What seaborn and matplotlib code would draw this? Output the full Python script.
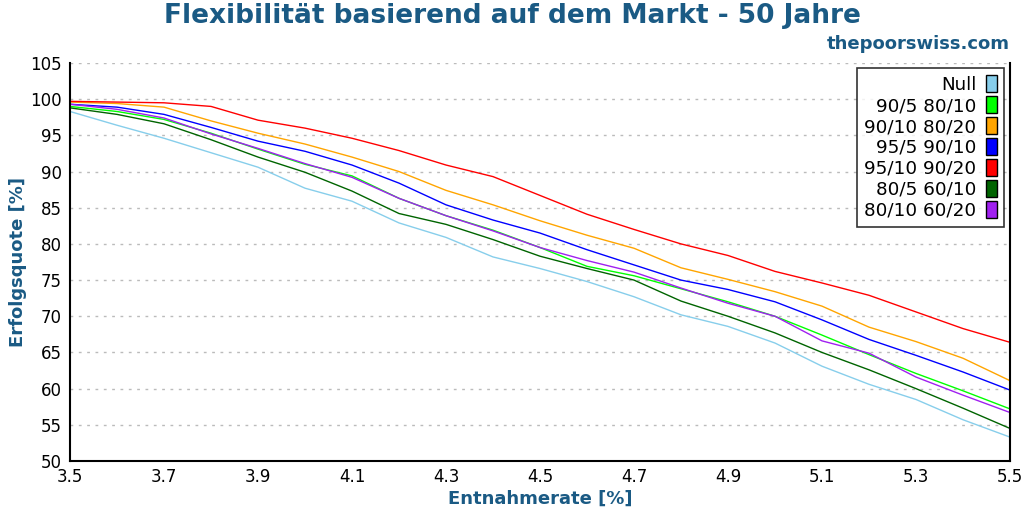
import matplotlib
matplotlib.use('Agg')
import matplotlib.pyplot as plt
from matplotlib.patches import Patch
import pandas as pd
import seaborn as sns

# Entnahmerate [%]
rates = [3.5, 3.6, 3.7, 3.8, 3.9, 4.0, 4.1, 4.2, 4.3, 4.4, 4.5,
         4.6, 4.7, 4.8, 4.9, 5.0, 5.1, 5.2, 5.3, 5.4, 5.5]

# Erfolgsquote [%] per strategy
null_vals = [98.3, 96.4, 94.6, 92.6, 90.6, 87.7, 85.9, 82.9, 80.9, 78.2, 76.6,
             74.8, 72.7, 70.2, 68.6, 66.3, 63.1, 60.6, 58.5, 55.7, 53.3]
s_90_5 = [99.0, 98.3, 97.2, 95.3, 93.1, 91.0, 89.4, 86.3, 83.9, 81.9, 79.5,
          76.9, 75.6, 73.8, 72.0, 70.0, 67.4, 64.7, 62.1, 59.7, 57.2]
s_90_10 = [99.6, 99.4, 98.9, 97.0, 95.3, 93.8, 92.0, 90.0, 87.4, 85.4, 83.2,
           81.2, 79.4, 76.7, 75.1, 73.4, 71.4, 68.5, 66.5, 64.2, 61.1]
s_95_5 = [99.3, 98.9, 97.9, 96.1, 94.2, 92.8, 90.9, 88.4, 85.4, 83.3, 81.5,
          79.2, 77.1, 75.0, 73.7, 72.0, 69.5, 66.8, 64.6, 62.3, 59.8]
s_95_10 = [99.7, 99.6, 99.5, 99.0, 97.1, 96.0, 94.6, 92.9, 90.9, 89.3, 86.7,
           84.1, 82.0, 80.0, 78.4, 76.2, 74.6, 72.9, 70.6, 68.3, 66.4]
s_80_5 = [98.8, 97.9, 96.6, 94.4, 92.0, 89.9, 87.3, 84.2, 82.7, 80.6, 78.3,
          76.6, 75.0, 72.1, 70.0, 67.7, 65.0, 62.6, 60.0, 57.3, 54.5]
s_80_10 = [99.3, 98.6, 97.4, 95.2, 93.2, 91.1, 89.2, 86.3, 83.9, 81.8, 79.5,
           77.7, 76.1, 73.9, 71.8, 70.0, 66.6, 64.9, 61.6, 59.1, 56.7]

labels = ['Null', '90/5 80/10', '90/10 80/20', '95/5 90/10',
          '95/10 90/20', '80/5 60/10', '80/10 60/20']
series = [null_vals, s_90_5, s_90_10, s_95_5, s_95_10, s_80_5, s_80_10]
colors = ['#87ceeb', '#00ff00', '#ffa500', '#0000ff',
          '#ff0000', '#006400', '#a020f0']

x_ticks = [3.5, 3.7, 3.9, 4.1, 4.3, 4.5, 4.7, 4.9, 5.1, 5.3, 5.5]
y_ticks = [50, 55, 60, 65, 70, 75, 80, 85, 90, 95, 100, 105]

blue_text = '#1a5a84'

# long-form table for seaborn
rows = []
for lab, vals in zip(labels, series):
    for r, v in zip(rates, vals):
        rows.append({'rate': r, 'quote': v, 'strategy': lab})
df = pd.DataFrame(rows)

sns.set_style('white')
plt.rcParams['font.family'] = ['DejaVu Sans']

fig = plt.figure(figsize=(10.24, 5.12), dpi=100)
ax = fig.add_axes([70 / 1024, 1 - 461 / 512, 940 / 1024, 398 / 512])

sns.lineplot(data=df, x='rate', y='quote', hue='strategy', hue_order=labels,
             palette=colors, linewidth=1.0, legend=False, ax=ax)

ax.set_xlim(3.5, 5.5)
ax.set_ylim(50, 105)
ax.set_xticks(x_ticks)
ax.set_yticks(y_ticks)
ax.set_xticklabels([f'{t:.1f}' for t in x_ticks])
ax.tick_params(axis='both', labelsize=12, direction='inout', length=8,
               width=1.2, colors='black', pad=2)
ax.tick_params(axis='x', pad=1)

ax.yaxis.grid(True, color='#bbbbbb', linestyle=(0, (2, 4)), linewidth=1.0)
ax.xaxis.grid(False)
for side in ['left', 'bottom', 'right']:
    ax.spines[side].set_color('black')
    ax.spines[side].set_linewidth(1.5)
ax.spines['top'].set_visible(False)

ax.set_xlabel('Entnahmerate [%]', fontsize=13, fontweight='bold',
              color=blue_text, labelpad=3)
ax.set_ylabel('Erfolgsquote [%]', fontsize=13, fontweight='bold',
              color=blue_text, labelpad=2)

fig.text(0.5, 1 - 16 / 512, 'Flexibilität basierend auf dem Markt - 50 Jahre',
         ha='center', va='center', fontsize=19, fontweight='bold', color=blue_text)
fig.text(1010 / 1024, 1 - 44 / 512, 'thepoorswiss.com', ha='right', va='center',
         fontsize=13, fontweight='bold', color=blue_text)

handles = [Patch(facecolor=c, edgecolor='black', linewidth=1.0) for c in colors]
leg = ax.legend(handles, labels, loc='upper right',
                bbox_to_anchor=((1004 - 70) / 940, (461 - 68) / 398),
                markerfirst=False, fontsize=13.2, frameon=True, fancybox=False,
                handlelength=0.6, handleheight=1.05, handletextpad=0.5,
                labelspacing=0.12, borderpad=0.4, borderaxespad=0.0)
leg.get_frame().set_edgecolor('black')
leg.get_frame().set_linewidth(1.2)
for t in leg.get_texts():
    t.set_ha('right')
    t.set_color('black')

fig.savefig('out.png', dpi=100)
